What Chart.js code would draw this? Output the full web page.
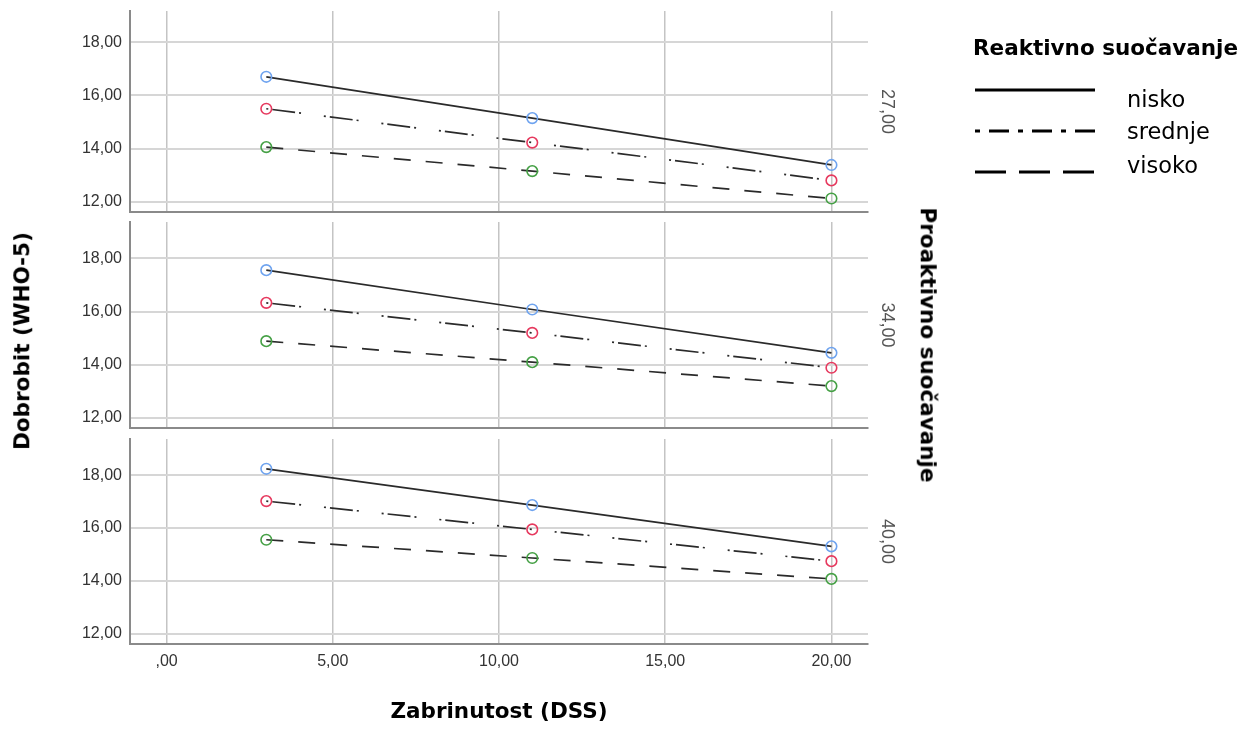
<!DOCTYPE html>
<html lang="hr">
<head>
<meta charset="UTF-8">
<title>Dobrobit i zabrinutost</title>
<style>
  body { margin: 0; background: #fff; }
  #wrap { position: relative; width: 1243px; height: 731px; overflow: hidden; }
  canvas { position: absolute; left: 0; }
  .vtitle { position: absolute; font: bold 21.5px "DejaVu Sans"; color: #000; white-space: nowrap; line-height: 1; }
</style>
</head>
<body>
<div id="wrap">
  <canvas id="p1" width="1243" height="219" style="top:0px"></canvas>
  <canvas id="p2" width="1243" height="220" style="top:215px"></canvas>
  <canvas id="p3" width="1243" height="299" style="top:432px"></canvas>
  <div class="vtitle" style="left:22px; top:341px; transform:translate(-50%,-50%) rotate(-90deg)">Dobrobit (WHO-5)</div>
  <div class="vtitle" style="left:928px; top:345px; transform:translate(-50%,-50%) rotate(90deg)">Proaktivno suočavanje</div>
</div>

<script src="https://cdn.jsdelivr.net/npm/chart.js"></script>
<script>
// Zabrinutost (DSS) - x vrijednosti
const dss = [3, 11, 20];

// reaktivno suočavanje
const groupNames = ['nisko', 'srednje', 'visoko'];
const legendTitle = 'Reaktivno suočavanje';
const xTitle = 'Zabrinutost (DSS)';

// proaktivno suočavanje = 27,00
const nisko27 = [16.70, 15.15, 13.39];
const srednje27 = [15.50, 14.23, 12.81];
const visoko27 = [14.06, 13.16, 12.13];
// 34,00
const nisko34 = [17.56, 16.08, 14.45];
const srednje34 = [16.33, 15.20, 13.89];
const visoko34 = [14.89, 14.10, 13.20];
// 40,00
const nisko40 = [18.24, 16.87, 15.31];
const srednje40 = [17.02, 15.95, 14.75];
const visoko40 = [15.56, 14.87, 14.08];

const panelLabels = ['27,00', '34,00', '40,00'];

// stilovi linija
const pointColors = ['#6ea3ef', '#e6395e', '#45a045'];
const lineDash = [[], [2, 4, 23, 4, 2, 23], [17, 15]];
const legendDash = [[], [5, 9, 20, 9], [31, 13]];

// SPSS format: 5,00 / ,00
function fmt(v) {
    let s = Number(v).toFixed(2).replace('.', ',');
    if (s.startsWith('0,')) s = s.slice(1);
    return s;
}

// legenda gore desno
const legendPlugin = {
    id: 'reaktivnoLegend',
    afterDraw(chart) {
        const ctx = chart.ctx;
        const lineY = [90, 131, 172];
        const textY = [106.5, 139, 172.5];
        ctx.save();
        ctx.fillStyle = '#000';
        ctx.textBaseline = 'alphabetic';
        ctx.font = 'bold 21.5px "DejaVu Sans"';
        ctx.fillText(legendTitle, 973, 55);
        ctx.font = '22.5px "DejaVu Sans"';
        groupNames.forEach((name, i) => {
            ctx.strokeStyle = '#000';
            ctx.lineWidth = 3;
            ctx.setLineDash(legendDash[i]);
            ctx.beginPath();
            ctx.moveTo(975, lineY[i]);
            ctx.lineTo(1095, lineY[i]);
            ctx.stroke();
            ctx.setLineDash([]);
            ctx.fillText(name, 1127, textY[i]);
        });
        ctx.restore();
    }
};

function makePanel(canvasId, series, label, yMax, padTop, padBottom, showX) {
    return new Chart(document.getElementById(canvasId), {
        type: 'scatter',
        data: {
            datasets: series.map((vals, i) => ({
                label: groupNames[i],
                data: dss.map((x, k) => ({ x: x, y: vals[k] })),
                showLine: true,
                borderColor: '#2a2a2a',
                borderWidth: 1.7,
                borderDash: lineDash[i],
                pointRadius: 5.3,
                pointBorderWidth: 1.6,
                pointBorderColor: pointColors[i],
                pointBackgroundColor: 'rgba(0,0,0,0)',
                tension: 0
            }))
        },
        options: {
            responsive: false,
            animation: false,
            events: [],
            layout: { padding: { top: padTop, bottom: padBottom, left: 0, right: 0 } },
            plugins: {
                legend: { display: false },
                tooltip: { enabled: false }
            },
            scales: {
                x: {
                    type: 'linear',
                    min: -1.1,
                    max: 21.1,
                    afterFit: s => {
                        s.height = showX ? 87 : 0;
                        s.paddingLeft = 0;
                        s.paddingRight = 0;
                    },
                    ticks: {
                        display: showX,
                        stepSize: 5,
                        includeBounds: false,
                        padding: 8,
                        maxRotation: 0,
                        color: '#333',
                        font: { family: 'Liberation Sans', size: 16 },
                        callback: v => fmt(v)
                    },
                    grid: { color: '#c4c4c4', lineWidth: 1.5, drawTicks: false },
                    border: { color: '#8a8a8a', width: 2 },
                    title: {
                        display: showX,
                        text: xTitle,
                        color: '#000',
                        font: { family: 'DejaVu Sans', size: 21.5, weight: 'bold' },
                        padding: { top: 0, bottom: 6 }
                    }
                },
                y: {
                    type: 'linear',
                    min: 11.62,
                    max: yMax,
                    afterFit: s => {
                        s.width = 130;
                        s.paddingTop = 0;
                        s.paddingBottom = 0;
                    },
                    ticks: {
                        stepSize: 2,
                        includeBounds: false,
                        padding: 8,
                        color: '#333',
                        font: { family: 'Liberation Sans', size: 16 },
                        callback: v => fmt(v)
                    },
                    grid: { color: '#d6d6d6', lineWidth: 2, drawTicks: false },
                    border: { color: '#8a8a8a', width: 2 }
                },
                yRight: {
                    axis: 'y',
                    type: 'linear',
                    position: 'right',
                    min: 0,
                    max: 1,
                    afterFit: s => {
                        s.width = 375;
                        s.paddingTop = 0;
                        s.paddingBottom = 0;
                    },
                    ticks: { display: false },
                    grid: { display: false, drawTicks: false },
                    border: { display: false },
                    title: {
                        display: true,
                        text: label,
                        color: '#555',
                        font: { family: 'Liberation Sans', size: 18 },
                        padding: { top: 345.2, bottom: 0 }
                    }
                }
            }
        },
        plugins: canvasId === 'p1' ? [legendPlugin] : []
    });
}

makePanel('p1', [nisko27, srednje27, visoko27], panelLabels[0], 19.17, 11, 2, false);
makePanel('p2', [nisko34, srednje34, visoko34], panelLabels[1], 19.37, 7, 2, false);
makePanel('p3', [nisko40, srednje40, visoko40], panelLabels[2], 19.37, 6, 0, true);
</script>
</body>
</html>
